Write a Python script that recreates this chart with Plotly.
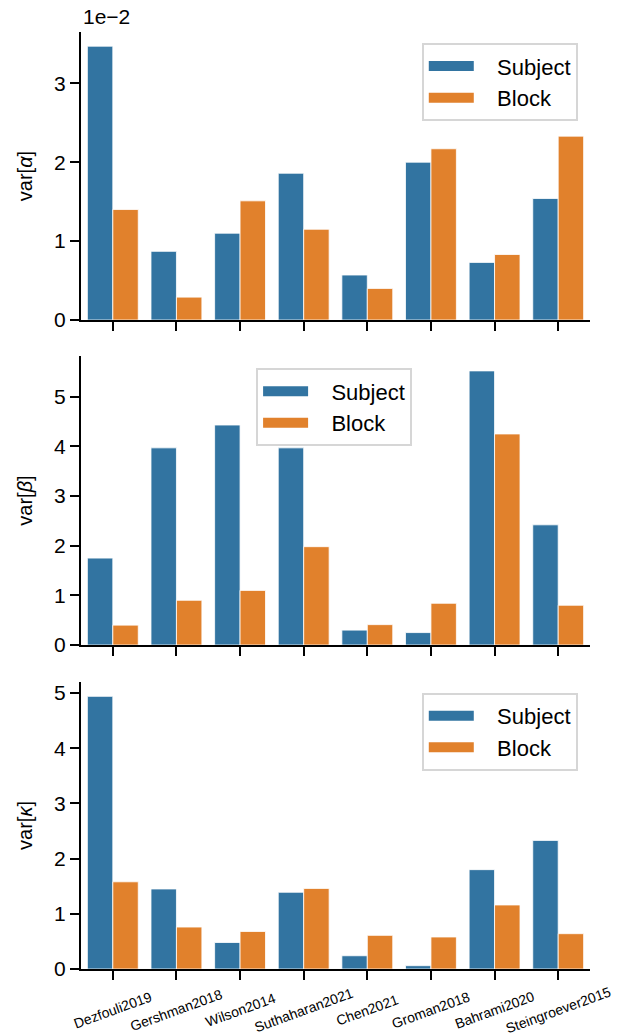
import plotly.graph_objects as go
from plotly.subplots import make_subplots

datasets = ["Dezfouli2019", "Gershman2018", "Wilson2014", "Suthaharan2021",
            "Chen2021", "Groman2018", "Bahrami2020", "Steingroever2015"]

alpha_subject = [0.0347, 0.0087, 0.0110, 0.0186, 0.0057, 0.0200, 0.0073, 0.0154]
alpha_block   = [0.0140, 0.0029, 0.0151, 0.0115, 0.0040, 0.0217, 0.0083, 0.0233]

beta_subject = [1.75, 3.97, 4.43, 3.97, 0.30, 0.25, 5.52, 2.42]
beta_block   = [0.40, 0.90, 1.10, 1.98, 0.41, 0.84, 4.25, 0.80]

kappa_subject = [4.94, 1.45, 0.48, 1.39, 0.24, 0.06, 1.80, 2.33]
kappa_block   = [1.58, 0.76, 0.68, 1.46, 0.61, 0.58, 1.16, 0.64]

series_names = ["Subject", "Block"]

BLUE = "#3274a1"
ORANGE = "#e1812c"
FONT = "Liberation Sans, Arial, sans-serif"
PAD = "\u00a0\u00a0\u00a0"

fig = make_subplots(rows=3, cols=1, shared_xaxes=False)

panels = [
    (alpha_subject, alpha_block, "legend"),
    (beta_subject, beta_block, "legend2"),
    (kappa_subject, kappa_block, "legend3"),
]
for i, (subj, blk, leg) in enumerate(panels, start=1):
    for name, vals, col in zip(series_names, (subj, blk), (BLUE, ORANGE)):
        fig.add_trace(go.Bar(x=datasets, y=vals, name=name, marker_color=col,
                             marker_line=dict(color="white", width=0.8),
                             showlegend=False, offsetgroup=name), row=i, col=1)
    for name, col in zip(series_names, (BLUE, ORANGE)):
        fig.add_trace(go.Scatter(x=[None], y=[None], mode="lines", name=PAD + name,
                                 line=dict(color=col, width=15),
                                 legend=leg, showlegend=True), row=i, col=1)

H = 1036
top, bottom = 32, 67
ph = H - top - bottom
def dom(y0, y1):
    return [(H - bottom - y1) / ph, (H - bottom - y0) / ph]

domains = [dom(32, 320), dom(356, 645), dom(682, 969)]
ranges = [[0, 0.0365], [0, 5.82], [0, 5.2]]
titles = ["var[<i>α</i>]", "var[<i>β</i>]", "var[<i>κ</i>]"]
tick_sets = [
    (dict(tickvals=[0, 0.01, 0.02, 0.03], ticktext=["0", "1", "2", "3"])),
    (dict(tickvals=[0, 1, 2, 3, 4, 5])),
    (dict(tickvals=[0, 1, 2, 3, 4, 5])),
]

axis_common = dict(showline=True, linecolor="black", linewidth=2,
                   ticks="outside", ticklen=9, tickwidth=2, tickcolor="black",
                   showgrid=False, zeroline=False,
                   tickfont=dict(size=21, color="black", family=FONT))

for i in range(3):
    yk = "yaxis" if i == 0 else f"yaxis{i+1}"
    xk = "xaxis" if i == 0 else f"xaxis{i+1}"
    fig.layout[yk].update(domain=domains[i], range=ranges[i],
                          title=dict(text=titles[i], standoff=16,
                                     font=dict(size=20, color="black", family=FONT)),
                          **tick_sets[i], **axis_common)
    fig.layout[xk].update(range=[-0.5, 7.5], showticklabels=False, **axis_common)

for c in datasets:
    fig.add_annotation(x=c, y=-0.044, xref="x3", yref="paper", text=c,
                       textangle=-20, showarrow=False, yanchor="middle",
                       xanchor="center",
                       font=dict(size=14, color="black", family=FONT))

fig.add_annotation(x=0, y=1.0, xref="paper", yref="paper", text="1e−2",
                   xanchor="left", yanchor="bottom", showarrow=False,
                   font=dict(size=21, color="black", family=FONT), yshift=2)

leg_common = dict(bgcolor="white", bordercolor="#d6d6d6", borderwidth=2,
                  font=dict(size=22, color="black", family=FONT),
                  itemwidth=45, tracegroupgap=0)
fig.update_layout(
    legend=dict(x=0.976, y=0.988, xanchor="right", yanchor="top", **leg_common),
    legend2=dict(x=0.344, y=0.641, xanchor="left", yanchor="top", **leg_common),
    legend3=dict(x=0.976, y=0.2946, xanchor="right", yanchor="top", **leg_common),
    width=619, height=H,
    margin=dict(l=81, r=29, t=top, b=bottom),
    plot_bgcolor="white", paper_bgcolor="white",
    bargap=0.2, bargroupgap=0, barmode="group",
    font=dict(family=FONT, color="black"),
)

fig.write_html("out.html")
